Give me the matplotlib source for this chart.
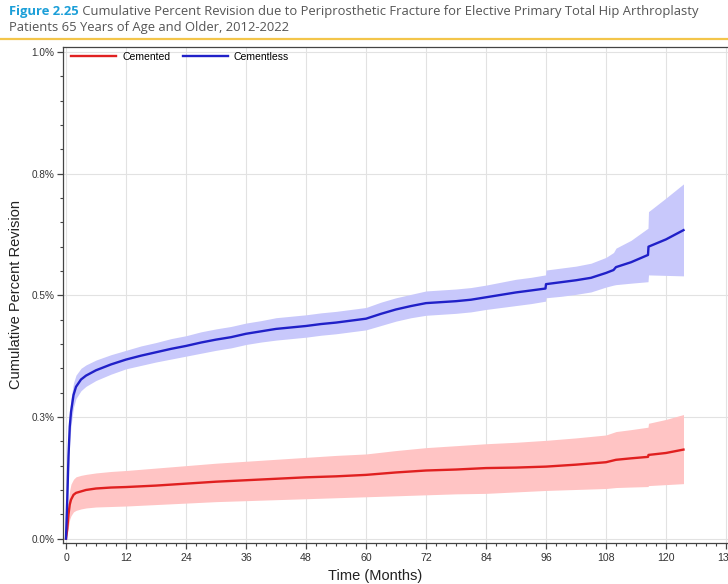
import matplotlib
matplotlib.use("Agg")
import matplotlib.pyplot as plt
from matplotlib.ticker import MultipleLocator, FixedLocator, FixedFormatter

# ---------------- data ----------------
cementless_months = [0, 0.25, 0.5, 0.75, 1, 1.5, 2, 3, 4, 6, 9, 12, 15, 18, 21, 24, 27, 30, 33, 36,
                     39, 42, 45, 48, 51, 54, 57, 60, 63, 66, 69, 72, 75, 78, 81, 84, 87, 90, 93,
                     95.9, 96, 99, 102, 105, 108, 109.5, 110, 113, 116.4, 116.5, 120, 123.5]
cementless_cpr = [0, 0.08, 0.17, 0.23, 0.26, 0.295, 0.312, 0.327, 0.335, 0.346, 0.358, 0.368, 0.376,
                  0.383, 0.39, 0.396, 0.403, 0.409, 0.414, 0.421, 0.426, 0.431, 0.434, 0.437, 0.441,
                  0.444, 0.448, 0.452, 0.462, 0.471, 0.478, 0.484, 0.486, 0.488, 0.491, 0.496, 0.501,
                  0.506, 0.510, 0.514, 0.523, 0.527, 0.531, 0.536, 0.546, 0.552, 0.558, 0.568, 0.583,
                  0.600, 0.615, 0.634]
cementless_lower = [0, 0.06, 0.14, 0.20, 0.232, 0.27, 0.288, 0.304, 0.313, 0.325, 0.338, 0.349, 0.356,
                    0.363, 0.369, 0.375, 0.381, 0.387, 0.392, 0.399, 0.404, 0.408, 0.411, 0.414, 0.418,
                    0.421, 0.425, 0.429, 0.438, 0.447, 0.454, 0.459, 0.461, 0.463, 0.466, 0.471, 0.475,
                    0.479, 0.483, 0.488, 0.495, 0.498, 0.502, 0.507, 0.517, 0.521, 0.522, 0.525, 0.528,
                    0.542, 0.541, 0.540]
cementless_upper = [0, 0.10, 0.20, 0.26, 0.288, 0.32, 0.336, 0.350, 0.357, 0.367, 0.378, 0.387, 0.396,
                    0.403, 0.411, 0.417, 0.425, 0.431, 0.436, 0.443, 0.448, 0.454, 0.457, 0.460, 0.464,
                    0.467, 0.471, 0.475, 0.486, 0.495, 0.502, 0.509, 0.511, 0.513, 0.516, 0.521, 0.527,
                    0.533, 0.537, 0.542, 0.552, 0.556, 0.560, 0.566, 0.578, 0.588, 0.597, 0.613, 0.638,
                    0.672, 0.700, 0.729]

cemented_months = [0, 0.25, 0.5, 0.75, 1, 1.5, 2, 3, 4, 6, 9, 12, 18, 24, 30, 36, 42, 48, 54, 60,
                   66, 72, 78, 84, 90, 96, 102, 108, 110, 113, 116.4, 116.5, 120, 123.5]
cemented_cpr = [0, 0.02, 0.05, 0.07, 0.08, 0.09, 0.094, 0.097, 0.100, 0.103, 0.105, 0.106, 0.109,
                0.113, 0.117, 0.120, 0.123, 0.126, 0.128, 0.131, 0.136, 0.140, 0.142, 0.145, 0.146,
                0.148, 0.152, 0.157, 0.162, 0.165, 0.168, 0.172, 0.176, 0.183]
cemented_lower = [0, 0.01, 0.025, 0.04, 0.047, 0.055, 0.058, 0.061, 0.063, 0.065, 0.066, 0.067, 0.070,
                  0.073, 0.076, 0.078, 0.080, 0.082, 0.084, 0.086, 0.088, 0.090, 0.092, 0.093, 0.096,
                  0.099, 0.101, 0.103, 0.105, 0.106, 0.107, 0.109, 0.111, 0.113]
cemented_upper = [0, 0.03, 0.08, 0.10, 0.112, 0.122, 0.127, 0.130, 0.132, 0.135, 0.138, 0.140, 0.145,
                  0.150, 0.155, 0.159, 0.163, 0.167, 0.171, 0.174, 0.181, 0.187, 0.191, 0.195, 0.198,
                  0.202, 0.207, 0.213, 0.220, 0.224, 0.229, 0.237, 0.245, 0.255]

x_ticks = [0, 12, 24, 36, 48, 60, 72, 84, 96, 108, 120, 132]
y_ticks = [0.0, 0.25, 0.5, 0.75, 1.0]
y_tick_labels = ["0.0%", "0.3%", "0.5%", "0.8%", "1.0%"]

title_prefix = "Figure 2.25"
title_line1 = " Cumulative Percent Revision due to Periprosthetic Fracture for Elective Primary Total Hip Arthroplasty"
title_line2 = "Patients 65 Years of Age and Older, 2012-2022"

# ---------------- figure ----------------
W, H = 728, 584
fig = plt.figure(figsize=(W / 100, H / 100), dpi=100)
fig.patch.set_facecolor("white")

ax_left, ax_right_px = 63, 741
ax_top_px, ax_bot_px = 46.7, 543
ax = fig.add_axes([ax_left / W, 1 - ax_bot_px / H, (ax_right_px - ax_left) / W, (ax_bot_px - ax_top_px) / H])

red = "#e02020"
blue = "#2020c8"
ax.fill_between(cemented_months, cemented_lower, cemented_upper, color="#ffc4c4", lw=0, zorder=2)
ax.fill_between(cementless_months, cementless_lower, cementless_upper, color="#c8c8fb", lw=0, zorder=2)
ax.plot(cemented_months, cemented_cpr, color=red, lw=1.7, label="Cemented", zorder=3)
ax.plot(cementless_months, cementless_cpr, color=blue, lw=1.7, label="Cementless", zorder=3)

ax.set_xlim(-0.6, 135)
ax.set_ylim(-0.009, 1.011)
ax.xaxis.set_major_locator(FixedLocator(x_ticks))
ax.xaxis.set_minor_locator(MultipleLocator(2))
ax.yaxis.set_major_locator(FixedLocator(y_ticks))
ax.yaxis.set_major_formatter(FixedFormatter(y_tick_labels))
ax.yaxis.set_minor_locator(MultipleLocator(0.05))
ax.grid(True, which="major", color="#e2e2e2", lw=0.8, zorder=0)
ax.set_axisbelow(True)

tick_font = "Liberation Sans"
ax.tick_params(axis="both", which="major", direction="out", length=4, width=0.9, color="#444444",
               labelcolor="#333333")
ax.tick_params(axis="both", which="minor", direction="out", length=2.5, width=0.8, color="#444444")
ax.tick_params(axis="x", labelsize=7.6, pad=3)
ax.tick_params(axis="y", labelsize=7.2, pad=2)
for lab in ax.get_xticklabels() + ax.get_yticklabels():
    lab.set_fontfamily(tick_font)
for s in ax.spines.values():
    s.set_color("#444444")
    s.set_linewidth(0.9)

ax.set_xlabel("Time (Months)", fontsize=10.5, family=tick_font, color="#222222")
ax.set_ylabel("Cumulative Percent Revision", fontsize=10.5, family=tick_font, color="#222222")
ax.xaxis.set_label_coords((375 - ax_left) / (ax_right_px - ax_left), -(576 - ax_bot_px) / (ax_bot_px - ax_top_px))
ax.yaxis.set_label_coords(-(63 - 16) / (ax_right_px - ax_left), 0.5)
ax.xaxis.label.set_va("center")
ax.yaxis.label.set_va("center")

leg = ax.legend(loc="upper left", ncol=2, frameon=False, prop={"family": tick_font, "size": 7.5},
                handlelength=4.3, handletextpad=0.6, columnspacing=1.2,
                bbox_to_anchor=((66 - ax_left) / (ax_right_px - ax_left), 1.0), borderaxespad=0.1)

# ---------------- title ----------------
title_font = "Open Sans"
tsize = 9.35
t1 = fig.text(9 / W, 1 - 12 / H, title_prefix, fontsize=tsize, family=title_font, fontweight="bold",
              color="#1c9fd8", va="center", ha="left")
fig.canvas.draw()
bb = t1.get_window_extent()
fig.text(bb.x1 / W, 1 - 12 / H, title_line1, fontsize=tsize, family=title_font, color="#555555",
         va="center", ha="left")
fig.text(9 / W, 1 - 28 / H, title_line2, fontsize=tsize, family=title_font, color="#555555",
         va="center", ha="left")
fig.add_artist(plt.Line2D([0, 1], [1 - 38.5 / H, 1 - 38.5 / H], color="#f3c54a", lw=1.6,
                          transform=fig.transFigure))

fig.savefig("out.png", dpi=100, facecolor="white")
